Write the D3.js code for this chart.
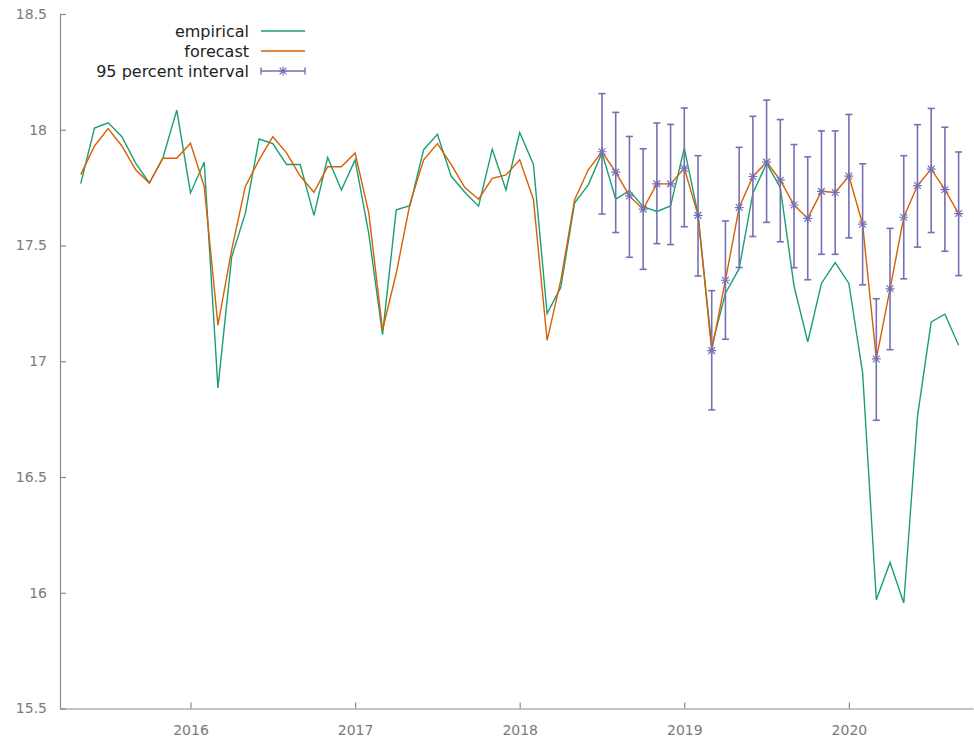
<!DOCTYPE html>
<html>
<head>
<meta charset="utf-8">
<script src="https://cdn.jsdelivr.net/npm/d3@7"></script>
<style>
  body { margin: 0; background: #fff; }
  svg { display: block; background: #fff; }
</style>
</head>
<body>
<svg id="chart" width="974" height="742"></svg>
<script>
// ---------- data ----------
const periods = [
  "2015:05","2015:06","2015:07","2015:08","2015:09","2015:10","2015:11","2015:12",
  "2016:01","2016:02","2016:03","2016:04","2016:05","2016:06","2016:07","2016:08","2016:09","2016:10","2016:11","2016:12",
  "2017:01","2017:02","2017:03","2017:04","2017:05","2017:06","2017:07","2017:08","2017:09","2017:10","2017:11","2017:12",
  "2018:01","2018:02","2018:03","2018:04","2018:05","2018:06","2018:07","2018:08","2018:09","2018:10","2018:11","2018:12",
  "2019:01","2019:02","2019:03","2019:04","2019:05","2019:06","2019:07","2019:08","2019:09","2019:10","2019:11","2019:12",
  "2020:01","2020:02","2020:03","2020:04","2020:05","2020:06","2020:07","2020:08","2020:09"
];

const empirical = [
  17.767, 18.007, 18.03, 17.97, 17.856, 17.77, 17.88, 18.085,
  17.727, 17.86, 16.885, 17.45, 17.64, 17.96, 17.94, 17.85, 17.85, 17.63, 17.88, 17.74,
  17.87, 17.55, 17.115, 17.654, 17.672, 17.914, 17.98, 17.80, 17.73, 17.67, 17.916, 17.74,
  17.988, 17.85, 17.206, 17.32, 17.683, 17.762, 17.90, 17.70, 17.737, 17.668, 17.647, 17.671,
  17.921, 17.635, 17.063, 17.294, 17.40, 17.726, 17.855, 17.75, 17.325, 17.084, 17.336, 17.426,
  17.336, 16.95, 15.97, 16.131, 15.956, 16.762, 17.17, 17.203, 17.069
];

const forecast = [
  17.806, 17.93, 18.005, 17.93, 17.827, 17.77, 17.877, 17.877,
  17.942, 17.755, 17.156, 17.48, 17.755, 17.87, 17.97, 17.90, 17.80, 17.73, 17.84, 17.84,
  17.90, 17.64, 17.136, 17.38, 17.68, 17.87, 17.94, 17.85, 17.75, 17.70, 17.79, 17.805,
  17.87, 17.70, 17.09, 17.35, 17.697, 17.827, 17.905, 17.817, 17.714, 17.657, 17.766, 17.766,
  17.834, 17.63, 17.046, 17.35, 17.664, 17.798, 17.86, 17.782, 17.675, 17.617, 17.734, 17.729,
  17.80, 17.592, 17.01, 17.313, 17.622, 17.759, 17.83, 17.741, 17.638
];

// 95 percent interval, from 2018:07 to 2020:09
const intervalStart = "2018:07";
const lower = [
  17.636, 17.556, 17.449, 17.397, 17.508, 17.504, 17.581, 17.368, 16.790, 17.095,
  17.405, 17.539, 17.600, 17.516, 17.404, 17.352, 17.462, 17.462, 17.533, 17.330,
  16.745, 17.050, 17.356, 17.493, 17.556, 17.475, 17.370
];
const upper = [
  18.156, 18.075, 17.971, 17.918, 18.029, 18.023, 18.094, 17.888, 17.305, 17.606,
  17.924, 18.058, 18.128, 18.044, 17.936, 17.883, 17.995, 17.995, 18.066, 17.853,
  17.270, 17.574, 17.888, 18.022, 18.092, 18.011, 17.904
];

const yTicks = [15.5, 16, 16.5, 17, 17.5, 18, 18.5];
const yTickLabels = ["15.5", "16", "16.5", "17", "17.5", "18", "18.5"];
const xTicks = [2016, 2017, 2018, 2019, 2020];
const xTickLabels = ["2016", "2017", "2018", "2019", "2020"];

const seriesNames = ["empirical", "forecast", "95 percent interval"];
const colors = { empirical: "#1b9e77", forecast: "#d95f02", interval: "#7570b3" };

// ---------- helpers ----------
const toTime = p => { const [y, m] = p.split(":").map(Number); return y + (m - 1) / 12; };
const t = periods.map(toTime);
const iStart = periods.indexOf(intervalStart);

const svg = d3.select("#chart");
const FONT = "'DejaVu Sans', Verdana, sans-serif";

const x = d3.scaleLinear().domain([2015.2072, 2020.754]).range([60, 973]);
const y = d3.scaleLinear().domain([15.5, 18.5]).range([708.5, 14]);

// ---------- axes ----------
const axisColor = "#8a8a8a";
const labelColor = "#7a7a7a";

const yAxis = d3.axisLeft(y).tickValues(yTicks)
  .tickFormat((d, i) => yTickLabels[i]).tickSize(-6).tickSizeOuter(0).tickPadding(13);
const gy = svg.append("g").attr("transform", "translate(60,0)").call(yAxis);

const xAxis = d3.axisBottom(x).tickValues(xTicks)
  .tickFormat((d, i) => xTickLabels[i]).tickSize(-6).tickSizeOuter(0).tickPadding(17);
const gx = svg.append("g").attr("transform", "translate(0,708.5)").call(xAxis);

[gx, gy].forEach(g => {
  g.select(".domain").attr("stroke", axisColor).attr("stroke-width", 1.2);
  g.selectAll(".tick line").attr("stroke", axisColor).attr("stroke-width", 1.2);
  g.selectAll(".tick text").attr("fill", labelColor)
    .style("font-family", FONT).style("font-size", "14px");
});

// ---------- lines ----------
const line = d3.line().x((d, i) => x(d[0])).y(d => y(d[1]));

svg.append("path")
  .datum(t.map((tt, i) => [tt, empirical[i]]))
  .attr("fill", "none").attr("stroke", colors.empirical).attr("stroke-width", 1.4)
  .attr("stroke-linejoin", "miter").attr("d", line);

svg.append("path")
  .datum(t.map((tt, i) => [tt, forecast[i]]))
  .attr("fill", "none").attr("stroke", colors.forecast).attr("stroke-width", 1.4)
  .attr("stroke-linejoin", "miter").attr("d", line);

// ---------- interval bars ----------
const starPath = r => `M${-r},0H${r}M0,${-r}V${r}M${-r * 0.75},${-r * 0.75}L${r * 0.75},${r * 0.75}M${-r * 0.75},${r * 0.75}L${r * 0.75},${-r * 0.75}`;
const cap = 3.5;

const bars = lower.map((lo, k) => ({ t: t[iStart + k], lo, hi: upper[k], f: forecast[iStart + k] }));
const gb = svg.append("g").attr("stroke", colors.interval).attr("stroke-width", 1.6).attr("fill", "none");
const bg = gb.selectAll("g").data(bars).join("g");
bg.append("line").attr("x1", d => x(d.t)).attr("x2", d => x(d.t)).attr("y1", d => y(d.lo)).attr("y2", d => y(d.hi));
bg.append("line").attr("x1", d => x(d.t) - cap).attr("x2", d => x(d.t) + cap).attr("y1", d => y(d.lo)).attr("y2", d => y(d.lo));
bg.append("line").attr("x1", d => x(d.t) - cap).attr("x2", d => x(d.t) + cap).attr("y1", d => y(d.hi)).attr("y2", d => y(d.hi));
bg.append("path").attr("transform", d => `translate(${x(d.t)},${y(d.f)})`).attr("d", starPath(4.5)).attr("stroke-width", 1.2);

// ---------- legend ----------
const legendRows = [
  { name: seriesNames[0], y: 31, kind: "line", color: colors.empirical },
  { name: seriesNames[1], y: 51, kind: "line", color: colors.forecast },
  { name: seriesNames[2], y: 71, kind: "interval", color: colors.interval }
];
const lg = svg.append("g");
legendRows.forEach(r => {
  lg.append("text").attr("x", 249).attr("y", r.y).attr("dy", "0.35em")
    .attr("text-anchor", "end").attr("fill", "#222")
    .style("font-family", FONT).style("font-size", "16px").text(r.name);
  if (r.kind === "line") {
    lg.append("line").attr("x1", 261).attr("x2", 305).attr("y1", r.y).attr("y2", r.y)
      .attr("stroke", r.color).attr("stroke-width", 1.4);
  } else {
    const g = lg.append("g").attr("stroke", r.color).attr("stroke-width", 1.4).attr("fill", "none");
    g.append("line").attr("x1", 261).attr("x2", 305).attr("y1", r.y).attr("y2", r.y);
    g.append("line").attr("x1", 261).attr("x2", 261).attr("y1", r.y - 3.5).attr("y2", r.y + 3.5);
    g.append("line").attr("x1", 305).attr("x2", 305).attr("y1", r.y - 3.5).attr("y2", r.y + 3.5);
    g.append("path").attr("transform", `translate(283,${r.y})`).attr("d", starPath(4.5)).attr("stroke-width", 1.2);
  }
});
</script>
</body>
</html>
